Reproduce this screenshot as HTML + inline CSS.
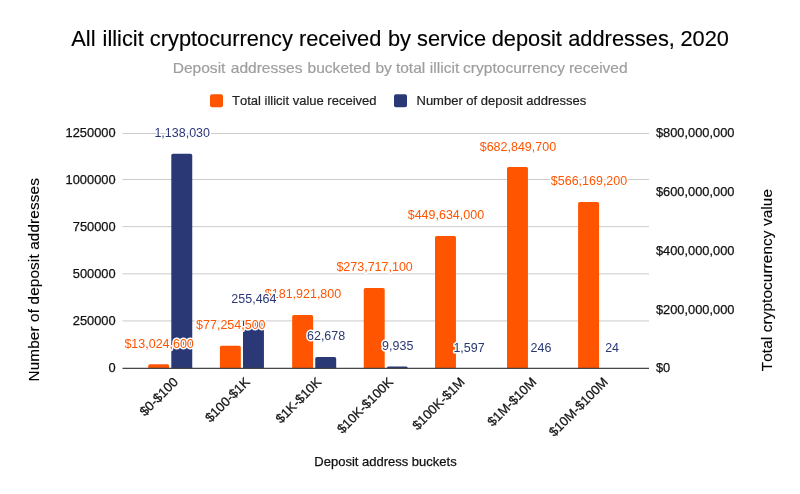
<!DOCTYPE html>
<html lang="en">
<head>
<meta charset="utf-8">
<title>All illicit cryptocurrency received by service deposit addresses, 2020</title>
<style>
html,body{margin:0;padding:0;background:#fff;}
body{width:800px;height:494px;overflow:hidden;}
svg{display:block;}
text{font-family:"Liberation Sans",Arial,sans-serif;font-kerning:none;}
.tick{font-size:12.85px;fill:#111;stroke:#111;stroke-width:0.25px;}
.dl{font-size:13.3px;paint-order:stroke fill;stroke:#fff;stroke-width:3.2px;stroke-linejoin:round;text-anchor:middle;}
.o{fill:#ff5500;}
.b{fill:#2a3876;}
.axt{font-size:15.3px;letter-spacing:0.11px;fill:#000;stroke:#000;stroke-width:0.15px;}
</style>
</head>
<body>
<svg width="800" height="494" viewBox="0 0 800 494">
<rect x="0" y="0" width="800" height="494" fill="#ffffff"/>
<text y="45.6" font-size="21.8" fill="#000" stroke="#000" stroke-width="0.15" xml:space="preserve"><tspan x="71.30">All </tspan><tspan x="102.60">illicit </tspan><tspan x="149.85">cryptocurrency </tspan><tspan x="298.90">received </tspan><tspan x="387.90">by </tspan><tspan x="417.10">service </tspan><tspan x="491.65">deposit </tspan><tspan x="568.25">addresses, </tspan><tspan x="680.50">2020</tspan></text>
<text y="72.9" font-size="15.55" fill="#9e9e9e" stroke="#9e9e9e" stroke-width="0.2" xml:space="preserve"><tspan x="172.70">Deposit </tspan><tspan x="230.75">addresses </tspan><tspan x="307.55">bucketed </tspan><tspan x="375.40">by </tspan><tspan x="395.90">total </tspan><tspan x="429.85">illicit </tspan><tspan x="463.10">cryptocurrency </tspan><tspan x="568.90">received</tspan></text>
<rect x="210" y="94.3" width="13" height="13" rx="2" ry="2" fill="#ff5500"/>
<text x="232" y="105.4" font-size="13" fill="#222" stroke="#222" stroke-width="0.2">Total illicit value received</text>
<rect x="394" y="94.3" width="13" height="13" rx="2" ry="2" fill="#2a3876"/>
<text x="416.5" y="105.4" font-size="13" fill="#222" stroke="#222" stroke-width="0.2">Number of deposit addresses</text>
<rect x="122.5" y="133.00" width="526.5" height="1" fill="#cccccc"/>
<rect x="122.5" y="179.00" width="526.5" height="1" fill="#cccccc"/>
<rect x="122.5" y="226.10" width="526.5" height="1" fill="#cccccc"/>
<rect x="122.5" y="273.34" width="526.5" height="1" fill="#cccccc"/>
<rect x="122.5" y="320.42" width="526.5" height="1" fill="#cccccc"/>
<text class="tick" x="115.6" y="136.70" text-anchor="end">1250000</text>
<text class="tick" x="115.6" y="183.83" text-anchor="end">1000000</text>
<text class="tick" x="115.6" y="230.96" text-anchor="end">750000</text>
<text class="tick" x="115.6" y="278.09" text-anchor="end">500000</text>
<text class="tick" x="115.6" y="325.22" text-anchor="end">250000</text>
<text class="tick" x="115.6" y="372.35" text-anchor="end">0</text>
<text class="tick" x="655.9" y="136.85">$800,000,000</text>
<text class="tick" x="655.9" y="195.75">$600,000,000</text>
<text class="tick" x="655.9" y="254.65">$400,000,000</text>
<text class="tick" x="655.9" y="313.55">$200,000,000</text>
<text class="tick" x="655.9" y="372.45">$0</text>
<path d="M148.20 368.35V365.90Q148.20 364.20 149.90 364.20H167.45Q169.15 364.20 169.15 365.90V368.35Z" fill="#ff5500"/>
<path d="M219.90 368.35V347.55Q219.90 345.85 221.60 345.85H239.15Q240.85 345.85 240.85 347.55V368.35Z" fill="#ff5500"/>
<path d="M292.15 368.35V316.80Q292.15 315.10 293.85 315.10H311.40Q313.10 315.10 313.10 316.80V368.35Z" fill="#ff5500"/>
<path d="M363.75 368.35V289.70Q363.75 288.00 365.45 288.00H383.00Q384.70 288.00 384.70 289.70V368.35Z" fill="#ff5500"/>
<path d="M435.00 368.35V237.60Q435.00 235.90 436.70 235.90H454.25Q455.95 235.90 455.95 237.60V368.35Z" fill="#ff5500"/>
<path d="M507.00 368.35V168.60Q507.00 166.90 508.70 166.90H526.25Q527.95 166.90 527.95 168.60V368.35Z" fill="#ff5500"/>
<path d="M578.10 368.35V203.60Q578.10 201.90 579.80 201.90H597.35Q599.05 201.90 599.05 203.60V368.35Z" fill="#ff5500"/>
<path d="M171.30 368.35V155.40Q171.30 153.70 173.00 153.70H190.55Q192.25 153.70 192.25 155.40V368.35Z" fill="#2a3876"/>
<path d="M243.00 368.35V321.90Q243.00 320.20 244.70 320.20H262.25Q263.95 320.20 263.95 321.90V368.35Z" fill="#2a3876"/>
<path d="M315.25 368.35V358.70Q315.25 357.00 316.95 357.00H334.50Q336.20 357.00 336.20 358.70V368.35Z" fill="#2a3876"/>
<path d="M386.85 368.35V368.20Q386.85 366.50 388.55 366.50H406.10Q407.80 366.50 407.80 368.20V368.35Z" fill="#2a3876"/>
<rect x="122.5" y="367.75" width="526.5" height="1.2" fill="#3d3d3d"/>
<text class="dl o" transform="translate(159.1 347.6) scale(0.94 1)">$13,024,600</text>
<text class="dl o" transform="translate(230.8 328.7) scale(0.94 1)">$77,254,500</text>
<text class="dl o" transform="translate(303.0 298.0) scale(0.94 1)">$181,921,800</text>
<text class="dl o" transform="translate(374.6 271.0) scale(0.94 1)">$273,717,100</text>
<text class="dl o" transform="translate(445.9 219.3) scale(0.94 1)">$449,634,000</text>
<text class="dl o" transform="translate(517.9 150.7) scale(0.94 1)">$682,849,700</text>
<text class="dl o" transform="translate(589.0 185.0) scale(0.94 1)">$566,169,200</text>
<text class="dl b" transform="translate(182.2 136.9) scale(0.94 1)">1,138,030</text>
<text class="dl b" transform="translate(253.9 302.9) scale(0.94 1)">255,464</text>
<text class="dl b" transform="translate(326.1 339.5) scale(0.94 1)">62,678</text>
<text class="dl b" transform="translate(397.7 349.5) scale(0.94 1)">9,935</text>
<text class="dl b" transform="translate(469.0 351.6) scale(0.94 1)">1,597</text>
<text class="dl b" transform="translate(541.0 352.1) scale(0.94 1)">246</text>
<text class="dl b" transform="translate(612.1 352.1) scale(0.94 1)">24</text>
<text class="tick" style="font-size:13.1px" text-anchor="end" transform="translate(178.9 382.8) rotate(-45)">$0-$100</text>
<text class="tick" style="font-size:13.1px" text-anchor="end" transform="translate(250.6 382.8) rotate(-45)">$100-$1K</text>
<text class="tick" style="font-size:13.1px" text-anchor="end" transform="translate(322.2 382.8) rotate(-45)">$1K-$10K</text>
<text class="tick" style="font-size:13.1px" text-anchor="end" transform="translate(393.9 382.8) rotate(-45)">$10K-$100K</text>
<text class="tick" style="font-size:13.1px" text-anchor="end" transform="translate(465.5 382.8) rotate(-45)">$100K-$1M</text>
<text class="tick" style="font-size:13.1px" text-anchor="end" transform="translate(537.1 382.8) rotate(-45)">$1M-$10M</text>
<text class="tick" style="font-size:13.1px" text-anchor="end" transform="translate(608.8 382.8) rotate(-45)">$10M-$100M</text>
<text x="385.5" y="466.0" font-size="13" fill="#111" stroke="#111" stroke-width="0.25" text-anchor="middle">Deposit address buckets</text>
<text class="axt" style="letter-spacing:0.135px" transform="translate(38.9 381.5) rotate(-90)">Number of deposit addresses</text>
<text class="axt" transform="translate(772 371.2) rotate(-90)">Total cryptocurrency value</text>
</svg>
</body>
</html>
